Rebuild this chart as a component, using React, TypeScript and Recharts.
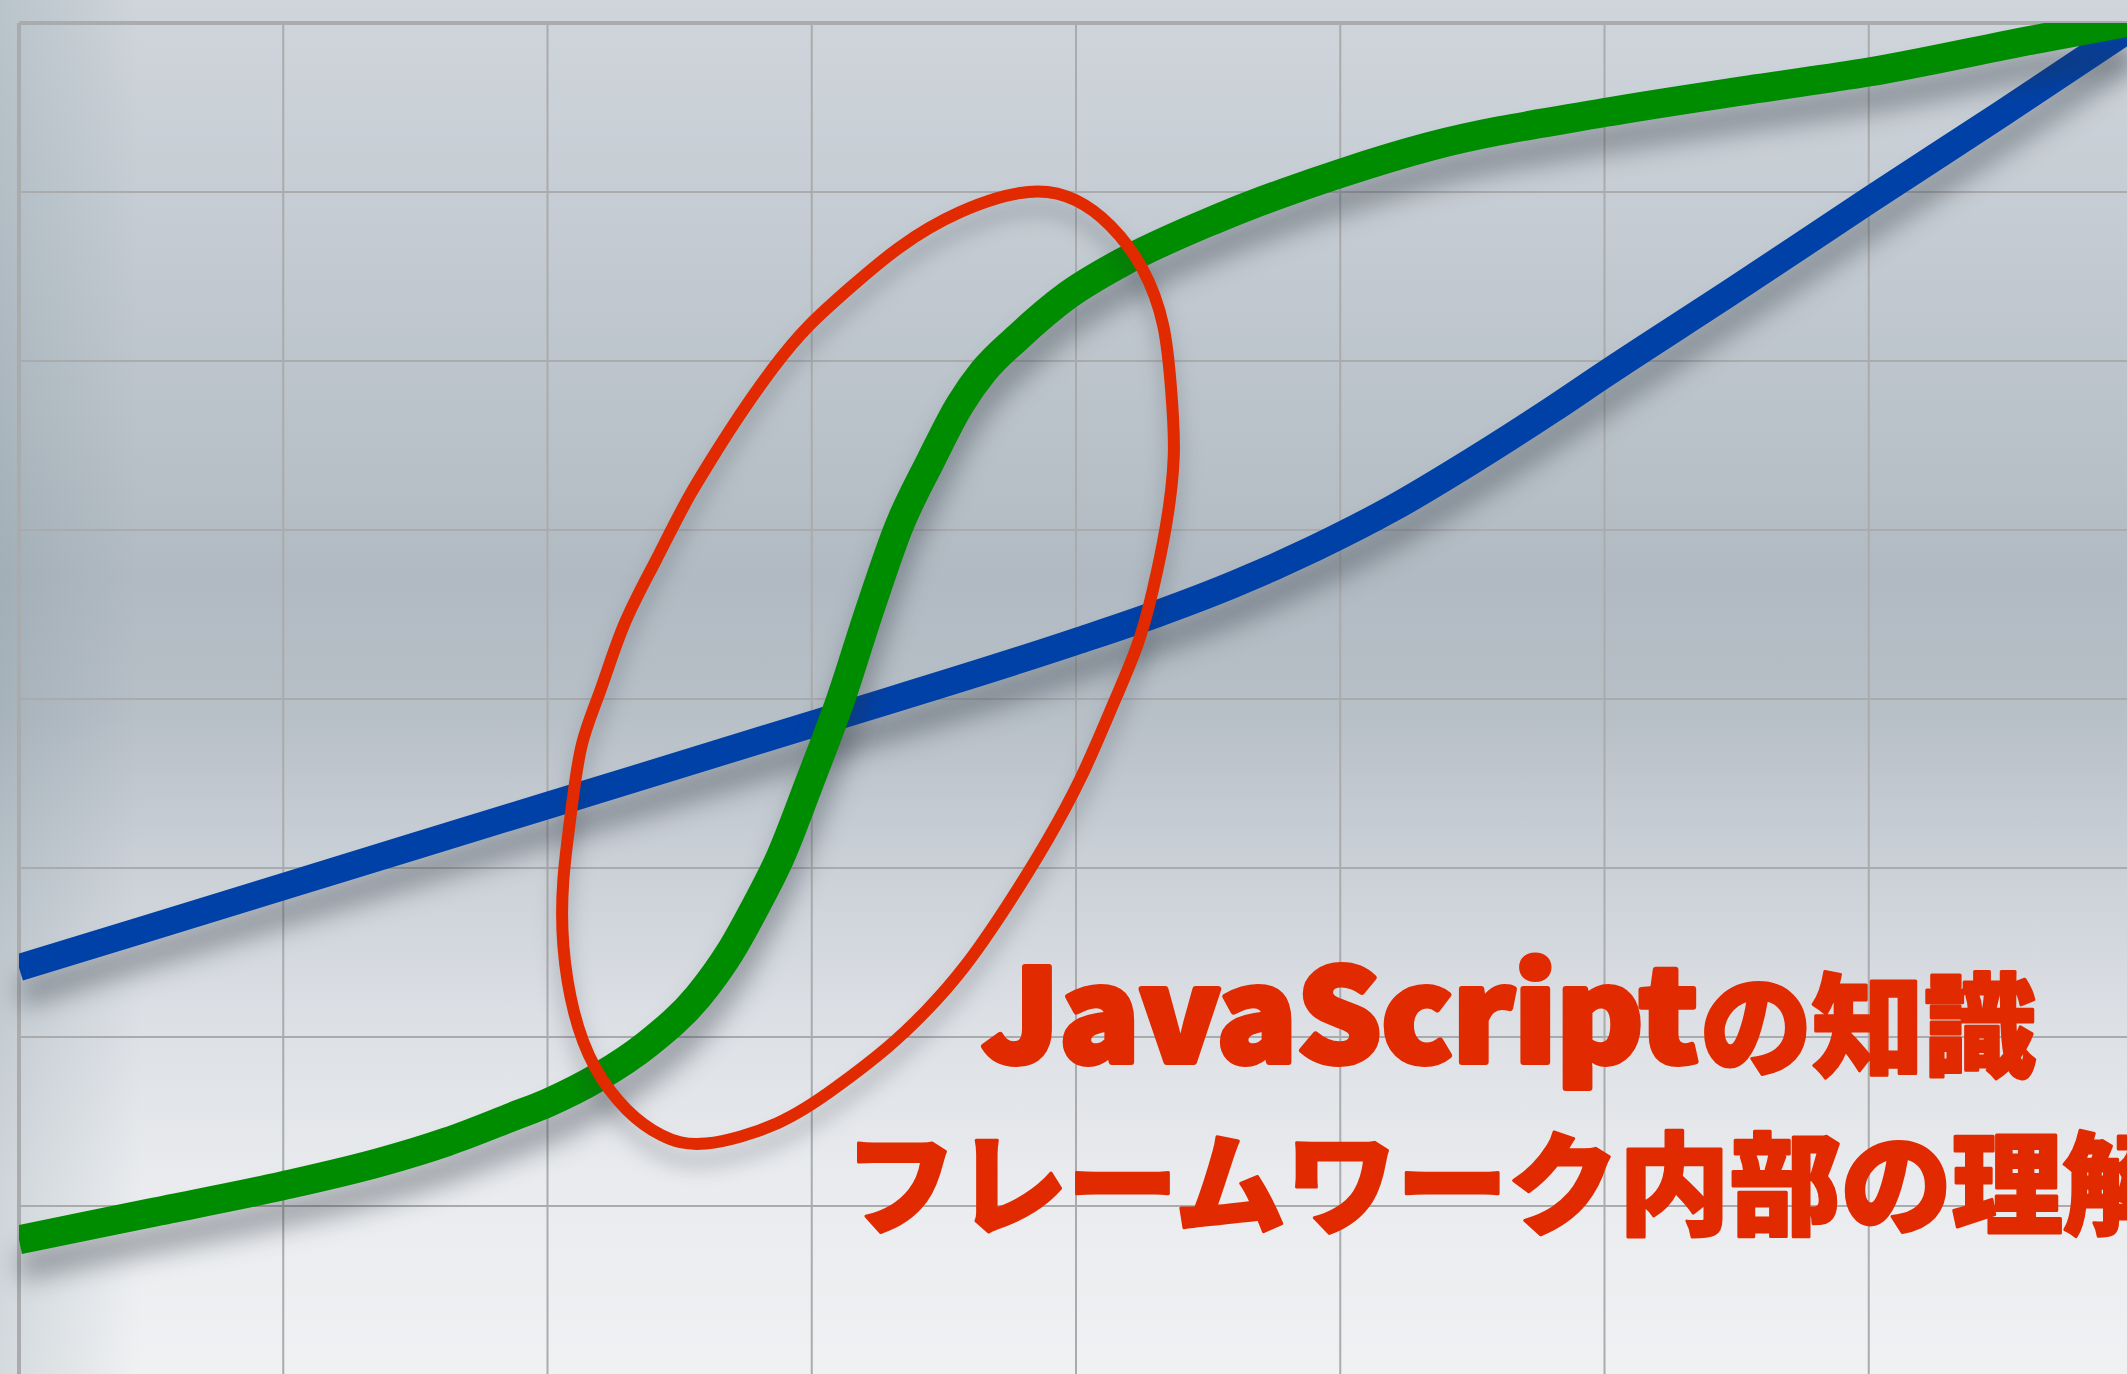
import { LineChart, Line, XAxis, YAxis, CartesianGrid, ReferenceLine } from 'recharts';

const gridTicks = [0, 1, 2, 3, 4, 5, 6, 7, 8];

const blueX = [0, 1, 2, 3, 4, 4.3, 4.6, 4.9, 5.2, 5.5, 5.8, 6.0, 6.5, 7.0, 7.5, 8.0];
const blueY = [2.41, 2.89, 3.37, 3.85, 4.34, 4.5, 4.68, 4.89, 5.13, 5.41, 5.71, 5.92, 6.43, 6.95, 7.46, 7.98];

const greenX = [0, 0.5, 1.0, 1.37, 1.62, 1.87, 2.0, 2.19, 2.38, 2.57, 2.69, 2.79, 2.88, 2.99, 3.11, 3.22, 3.33, 3.45, 3.56, 3.65, 3.78, 3.97, 4.17, 4.53, 5.0, 5.34, 6.0, 6.57, 7.0, 7.62, 8.0];
const greenY = [0.8, 0.96, 1.12, 1.26, 1.38, 1.53, 1.61, 1.76, 1.96, 2.24, 2.5, 2.78, 3.06, 3.5, 4.0, 4.53, 5.02, 5.41, 5.74, 5.94, 6.14, 6.39, 6.58, 6.84, 7.11, 7.27, 7.47, 7.61, 7.71, 7.9, 8.01];

// hand-drawn ring around the crossing, read clockwise from its upper-left side
// (the last two points repeat the first two so the loop closes smoothly)
const ringX = [2.54, 2.69, 2.85, 2.99, 3.15, 3.33, 3.56, 3.82, 4.0, 4.13, 4.25, 4.33, 4.36, 4.37, 4.34, 4.29, 4.23, 4.13, 4.02, 3.89, 3.74, 3.58, 3.43, 3.28, 3.09, 2.87, 2.6, 2.43, 2.3, 2.18, 2.1, 2.06, 2.06, 2.09, 2.13, 2.2, 2.29, 2.41, 2.54, 2.69];
const ringY = [5.21, 5.59, 5.95, 6.21, 6.44, 6.67, 6.88, 7.0, 6.95, 6.8, 6.55, 6.21, 5.83, 5.44, 5.02, 4.64, 4.31, 3.93, 3.54, 3.16, 2.78, 2.42, 2.15, 1.93, 1.7, 1.49, 1.37, 1.42, 1.57, 1.82, 2.15, 2.54, 2.93, 3.34, 3.73, 4.05, 4.44, 4.82, 5.21, 5.59];

const titleLine1Latin = 'JavaScript';
const titleLine1Jp = 'の知識';
const titleLine2 = 'フレームワーク内部の理解';

const zip = (xs: number[], ys: number[]) => xs.map((x, i) => ({ x, y: ys[i] }));

const blueData = zip(blueX, blueY);
const greenData = zip(greenX, greenY);
const ringData = zip(ringX, ringY);

const RED = '#e12a00';
const FONT = '"Noto Sans CJK JP", "Noto Sans", sans-serif';

export default function App() {
  return (
    <div
      style={{
        position: 'absolute',
        left: 0,
        top: 0,
        width: 2127,
        height: 1374,
        overflow: 'hidden',
        background:
          'linear-gradient(to bottom, #cfd5db 0%, #c6cdd4 14%, #bbc3ca 30%, #b1bac2 42%, #b7bfc7 52%, #c9cfd6 62%, #dcdfe4 74%, #e9ebee 86%, #f0f1f3 100%)',
      }}
    >
      <style>{`
        .drop-shadow { filter: drop-shadow(0px 26px 13px rgba(40, 48, 58, 0.4)); }
        .ring-shadow { filter: drop-shadow(0px 16px 10px rgba(40, 48, 58, 0.28)); }
      `}</style>
      <div
        style={{
          position: 'absolute',
          left: 0,
          top: 0,
          width: 140,
          height: 1374,
          background: 'linear-gradient(to right, rgba(110,135,145,0.22), rgba(110,135,145,0))',
        }}
      />
      <div style={{ position: 'absolute', left: 0, top: 0 }}>
        <LineChart width={2140} height={1400} margin={{ top: 23, left: 19, right: 7, bottom: 25 }}>
          <XAxis type="number" dataKey="x" domain={[0, 8]} ticks={gridTicks} allowDataOverflow hide />
          <YAxis type="number" dataKey="y" domain={[0, 8]} ticks={gridTicks} allowDataOverflow hide />
          <CartesianGrid stroke="#a9abad" strokeWidth={2} />
          <ReferenceLine y={8} stroke="#a9abad" strokeWidth={4} />
          <ReferenceLine x={0} stroke="#a9abad" strokeWidth={4} />
          <Line
            data={blueData}
            dataKey="y"
            type="monotone"
            stroke="#0041a8"
            strokeWidth={27}
            strokeLinecap="butt"
            dot={false}
            activeDot={false}
            className="drop-shadow"
            isAnimationActive={false}
          />
          <Line
            data={greenData}
            dataKey="y"
            type="monotone"
            stroke="#008c00"
            strokeWidth={29}
            strokeLinecap="butt"
            dot={false}
            activeDot={false}
            className="drop-shadow"
            isAnimationActive={false}
          />
          <Line
            data={ringData}
            dataKey="y"
            type="natural"
            stroke={RED}
            strokeWidth={12}
            dot={false}
            activeDot={false}
            className="ring-shadow"
            isAnimationActive={false}
          />
        </LineChart>
      </div>
      <svg width={2127} height={1374} style={{ position: 'absolute', left: 0, top: 0, pointerEvents: 'none' }}>
        <text
          x={982}
          y={1062}
          fill={RED}
          stroke={RED}
          strokeWidth={6}
          strokeLinejoin="round"
          fontFamily={FONT}
          fontWeight={900}
          fontSize={128}
          textLength={716}
          lengthAdjust="spacingAndGlyphs"
        >
          {titleLine1Latin}
        </text>
        <text
          x={1700}
          y={1068}
          fill={RED}
          stroke={RED}
          strokeWidth={3}
          strokeLinejoin="round"
          fontFamily={FONT}
          fontWeight={900}
          fontSize={112}
        >
          {titleLine1Jp}
        </text>
        <text
          x={845}
          y={1226}
          fill={RED}
          stroke={RED}
          strokeWidth={3}
          strokeLinejoin="round"
          fontFamily={FONT}
          fontWeight={900}
          fontSize={111}
        >
          {titleLine2}
        </text>
      </svg>
    </div>
  );
}
